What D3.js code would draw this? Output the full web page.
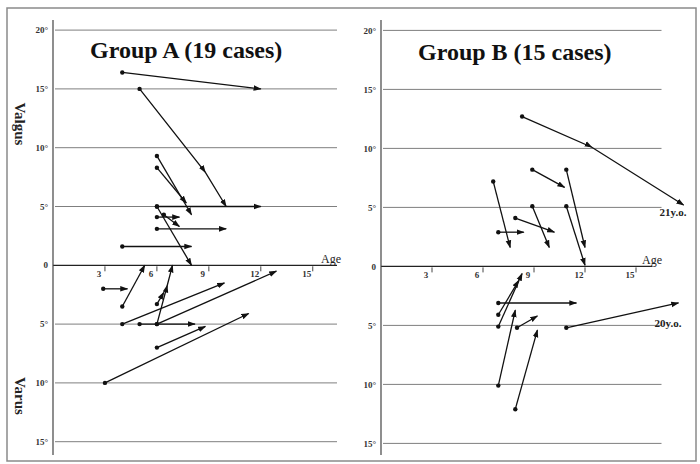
<!DOCTYPE html>
<html>
<head>
<meta charset="utf-8">
<script src="https://cdn.jsdelivr.net/npm/d3@7"></script>
<style>
  body { margin: 0; background: #fff; }
  svg { display: block; }
</style>
</head>
<body>
<div id="chart"></div>
<script>
// ticks
const ageTicks = [3, 6, 9, 12, 15];
const angleTicks = [20, 15, 10, 5, 0, -5, -10, -15];
const angleTickLabels = ["20°", "15°", "10°", "5°", "0", "5°", "10°", "15°"];

// Group A: one entry per case, ages (years) and angle (valgus +, varus -)
const groupAAges = [
  [4, 12], [5, 8.8, 10], [6, 8], [6, 7.7], [6, 12], [6, 8], [6, 7.3], [6.4, 7.3],
  [6, 10], [4, 8], [2.9, 4.3], [4, 5.3], [6, 6.6, 6.9], [6, 6.4], [4, 9.9],
  [6, 12.9], [5, 8.2], [6, 8.8], [3, 11.3]
];
const groupAAngles = [
  [16.4, 15], [15, 7.9, 5], [9.3, 4.3], [8.3, 5.3], [5, 5], [5, 0], [4.1, 4.1], [4.3, 3.3],
  [3.1, 3.1], [1.6, 1.6], [-2, -2], [-3.5, 0], [-5, -1.7, 0], [-3.3, -2.3], [-5, -1.5],
  [-5, -0.5], [-5, -5], [-7, -5.2], [-10, -4.1]
];
const groupANotes = [];

// Group B
const groupBAges = [
  [8.3, 12.4, 17.8], [8.9, 10.8], [10.9, 12.0], [6.6, 7.6], [8.9, 9.9], [10.9, 12.0],
  [7.9, 10.2], [6.9, 8.4], [6.9, 11.5], [6.9, 8.3], [6.9, 8.1], [6.9, 7.9],
  [8.0, 9.2], [7.9, 9.2], [10.9, 17.5]
];
const groupBAngles = [
  [12.7, 10.1, 5.2], [8.2, 6.7], [8.2, 1.6], [7.2, 1.6], [5.1, 1.6], [5.1, 0.1],
  [4.1, 2.9], [2.9, 2.9], [-3.1, -3.1], [-5.1, -0.6], [-4.1, -1.2], [-10.1, -3.7],
  [-5.2, -4.2], [-12.1, -5.4], [-5.2, -3.1]
];
const groupBNotes = [[0, "21y.o."], [14, "20y.o."]];

const W = 700, H = 464;
const serif = "'Liberation Serif', 'Times New Roman', serif";

const svg = d3.select("#chart").append("svg")
  .attr("width", W)
  .attr("height", H);

svg.append("rect").attr("width", W).attr("height", H).attr("fill", "#fff");

// outer frame
svg.append("rect")
  .attr("x", 7).attr("y", 8)
  .attr("width", 689).attr("height", 453)
  .attr("fill", "none")
  .attr("stroke", "#8a8a8a")
  .attr("stroke-width", 1.5);

const defs = svg.append("defs");
defs.append("marker")
  .attr("id", "arrow")
  .attr("viewBox", "0 0 10 10")
  .attr("refX", 9).attr("refY", 5)
  .attr("markerWidth", 8).attr("markerHeight", 8)
  .attr("markerUnits", "userSpaceOnUse")
  .attr("orient", "auto")
  .append("path")
  .attr("d", "M0,1.5 L10,5 L0,8.5 Z")
  .attr("fill", "#111");

const panels = [
  {
    title: "Group A (19 cases)", titleX: 90, titleY: 58,
    ages: groupAAges, angles: groupAAngles, notes: groupANotes,
    x: d3.scaleLinear().domain([0, 16.4]).range([53, 337]),
    y: d3.scaleLinear().domain([-15, 20]).range([441.7, 30.1]),
    axisMax: 16.4, ageX: 321
  },
  {
    title: "Group B (15 cases)", titleX: 418, titleY: 60,
    ages: groupBAges, angles: groupBAngles, notes: groupBNotes,
    x: d3.scaleLinear().domain([0, 16.5]).range([381, 661.5]),
    y: d3.scaleLinear().domain([-15, 20]).range([443.4, 30.4]),
    axisMax: 15.95, ageX: 642
  }
];

panels.forEach(p => {
  const g = svg.append("g");
  const x = p.x, y = p.y;
  const x0 = x(0);

  // horizontal grid lines (except zero)
  g.selectAll(".grid")
    .data(angleTicks.filter(d => d !== 0))
    .enter().append("line")
    .attr("x1", x0 + 2).attr("x2", x.range()[1])
    .attr("y1", d => y(d)).attr("y2", d => y(d))
    .attr("stroke", "#7f7f7f")
    .attr("stroke-width", 1);

  // zero line = age axis
  g.append("line")
    .attr("x1", x0).attr("x2", x(p.axisMax))
    .attr("y1", y(0)).attr("y2", y(0))
    .attr("stroke", "#222")
    .attr("stroke-width", 1.2);

  // vertical angle axis
  g.append("line")
    .attr("x1", x0).attr("x2", x0)
    .attr("y1", 20).attr("y2", 455)
    .attr("stroke", "#444")
    .attr("stroke-width", 1.2);

  // angle tick labels
  g.selectAll(".ylab")
    .data(angleTicks)
    .enter().append("text")
    .attr("x", x0 - 5)
    .attr("y", d => y(d))
    .attr("dy", "0.35em")
    .attr("text-anchor", "end")
    .style("font-family", serif)
    .style("font-size", "9px")
    .style("font-weight", "bold")
    .attr("fill", "#333")
    .text((d, i) => angleTickLabels[i]);

  // age ticks
  g.selectAll(".xtick")
    .data(ageTicks)
    .enter().append("line")
    .attr("x1", d => x(d)).attr("x2", d => x(d))
    .attr("y1", y(0) + 1).attr("y2", y(0) + 6)
    .attr("stroke", "#444")
    .attr("stroke-width", 1);

  g.selectAll(".xlab")
    .data(ageTicks)
    .enter().append("text")
    .attr("x", d => x(d) - 6)
    .attr("y", y(0) + 12)
    .attr("text-anchor", "middle")
    .style("font-family", serif)
    .style("font-size", "9px")
    .style("font-weight", "bold")
    .attr("fill", "#333")
    .text(d => d);

  g.append("text")
    .attr("x", p.ageX)
    .attr("y", y(0) - 2)
    .style("font-family", serif)
    .style("font-size", "12px")
    .attr("fill", "#222")
    .text("Age");

  // title
  g.append("text")
    .attr("x", p.titleX)
    .attr("y", p.titleY)
    .style("font-family", serif)
    .style("font-size", "24px")
    .style("font-weight", "bold")
    .attr("fill", "#111")
    .text(p.title);

  // cases
  const cases = p.ages.map((ages, i) => ages.map((a, j) => [a, p.angles[i][j]]));
  const line = d3.line().x(d => x(d[0])).y(d => y(d[1]));

  g.selectAll(".case")
    .data(cases)
    .enter().append("path")
    .attr("d", line)
    .attr("fill", "none")
    .attr("stroke", "#111")
    .attr("stroke-width", 1.3)
    .attr("marker-mid", "url(#arrow)")
    .attr("marker-end", "url(#arrow)");

  g.selectAll(".start")
    .data(cases)
    .enter().append("circle")
    .attr("cx", d => x(d[0][0]))
    .attr("cy", d => y(d[0][1]))
    .attr("r", 2.2)
    .attr("fill", "#111");

  g.selectAll(".note")
    .data(p.notes)
    .enter().append("text")
    .attr("x", d => { const c = cases[d[0]]; return x(c[c.length - 1][0]) - 24; })
    .attr("y", d => { const c = cases[d[0]]; return y(c[c.length - 1][1]) + (d[0] === 0 ? 11 : 24); })
    .style("font-family", serif)
    .style("font-size", "11px")
    .style("font-weight", "bold")
    .attr("fill", "#222")
    .text(d => d[1]);
});

// side labels
[["Valgus", 124], ["Varus", 396]].forEach(([t, cy]) => {
  svg.append("text")
    .attr("transform", `translate(20,${cy}) rotate(90)`)
    .attr("text-anchor", "middle")
    .attr("dy", "0.35em")
    .style("font-family", serif)
    .style("font-size", "15px")
    .style("font-weight", "bold")
    .attr("fill", "#222")
    .text(t);
});
</script>
</body>
</html>
